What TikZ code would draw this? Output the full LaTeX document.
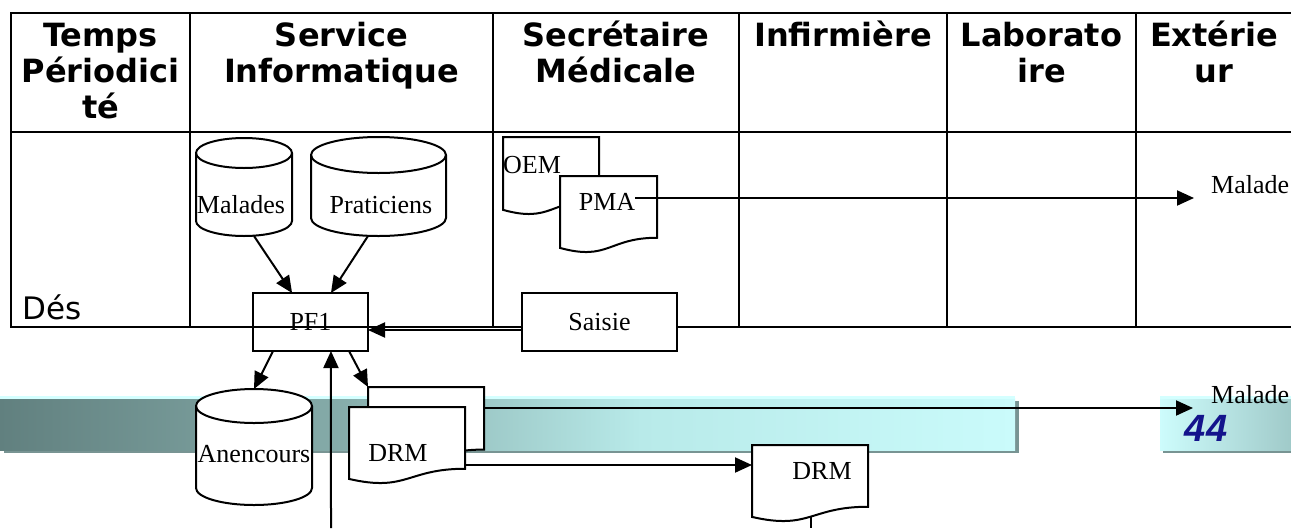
\documentclass[tikz,border=0pt]{standalone}
\usepackage{fontspec}
\setmainfont{Liberation Serif}
\newfontfamily\hdrfont{DejaVu Sans}
\newfontfamily\numfont{Liberation Sans}
\usetikzlibrary{arrows.meta,calc}
\definecolor{bzero}{RGB}{97,128,127}
\definecolor{bone}{RGB}{132,170,168}
\definecolor{btwo}{RGB}{184,234,233}
\definecolor{bthree}{RGB}{202,251,251}
\definecolor{bandshadow}{RGB}{120,148,147}
\definecolor{bandtop}{RGB}{212,255,255}
\definecolor{nzero}{RGB}{205,252,252}
\definecolor{none}{RGB}{160,202,201}
\definecolor{numblue}{RGB}{20,20,140}
\newcommand\cyldraw[5]{% cx, rx, yt, yb, ry
  \draw[ln, fill=white] ({#1-#2},#3) -- ({#1-#2},#4) arc[start angle=180, end angle=0, x radius=#2, y radius=#5] -- ({#1+#2},#3) arc[start angle=0, end angle=-180, x radius=#2, y radius=#5] -- cycle;
  \draw[ln] ({#1-#2},#3) arc[start angle=180, end angle=0, x radius=#2, y radius=#5];}
\newcommand\docdraw[4]{% L T w h
  \draw[ln, fill=white] (#1,#2) -- ({#1+#3},#2) -- ({#1+#3},{#2+0.802*#4}) .. controls ({#1+0.5*#3},{#2+0.802*#4}) and ({#1+0.5*#3},{#2+1.1075*#4}) .. (#1,{#2+0.934*#4}) -- cycle;}
\begin{document}
\begin{tikzpicture}[x=1pt,y=-1pt,
  tbl/.style={line width=2.8pt},
  ln/.style={line width=2pt},
  arr/.style={line width=2pt,-{Triangle[length=17pt,width=15pt]}},
  lbl/.style={font=\fontsize{26}{30}\selectfont, inner sep=0pt},
  hdr/.style={font=\hdrfont\bfseries\fontsize{32}{36}\selectfont, align=center, inner sep=0pt, anchor=north},
  box/.style n args={2}{minimum width=#1pt, minimum height=#2pt, inner sep=0pt, outer sep=0pt}]
\useasboundingbox[fill=white] (0,0) rectangle (1291,528);

% background band of the slide
\fill[bandshadow] (4,401) rectangle (1019,453);
\shade[left color=bzero,right color=bone] (0,398) rectangle (331,450);
\shade[left color=bone,right color=btwo] (330,398) rectangle (641,450);
\shade[left color=btwo,right color=bthree] (640,398) rectangle (1015,450);
\fill[bandtop] (0,396) rectangle (1015,399);
\fill[bandshadow] (1163,401) rectangle (1291,453);
\shade[left color=nzero,right color=none] (1160,398) rectangle (1291,450);
\fill[bandtop] (1160,396) rectangle (1291,399);
\node[font=\numfont\bfseries\itshape\fontsize{38}{40}\selectfont, text=numblue, inner sep=0pt] (pagenum) at (1206,428) {44};

% table
\draw[tbl] (1291,13) -- (11,13) -- (11,327) -- (1291,327);
\draw[tbl] (11,132) -- (1291,132);
\foreach \cx in {190,493,739,947,1136} \draw[tbl] (\cx,13) -- (\cx,327);
\node[hdr] (hT) at (100.5,16) {\rule{0pt}{30pt}Temps\\Périodici\\té};
\node[hdr] (hS) at (341.5,16) {\rule{0pt}{30pt}Service\\Informatique};
\node[hdr] (hM) at (616,16) {\rule{0pt}{30pt}Secrétaire\\Médicale};
\node[hdr] (hI) at (843,16) {\rule{0pt}{30pt}Infirmière};
\node[hdr] (hL) at (1041.5,16) {\rule{0pt}{30pt}Laborato\\ire};
\node[hdr] (hE) at (1214,16) {\rule{0pt}{30pt}Extérie\\ur};
\node[font=\hdrfont\fontsize{31}{36}\selectfont, anchor=base west, inner sep=0pt] (des) at (22,319) {Dés};

% data stores
\node[box={96}{98}] (malades) at (244,187) {};
\cyldraw{244}{48}{153}{221}{15}
\node[lbl, anchor=base] (maladesT) at (241,213) {Malades};
\node[box={135}{99}] (praticiens) at (378.5,186.5) {};
\cyldraw{378.5}{67.5}{155}{218}{18}
\node[lbl, anchor=base] (praticiensT) at (381,213) {Praticiens};
\node[box={116}{116}] (anencours) at (254,447) {};
\cyldraw{254}{58}{406}{488}{17}
\node[lbl, anchor=base] (anencoursT) at (254,462) {Anencours};

% documents
\node[box={96}{78}] (oem) at (551,176) {};
\docdraw{503}{137}{96}{78}
\node[lbl, anchor=base west] (oemT) at (503,173) {OEM};
\node[box={97}{77}] (pma) at (608.5,214.5) {};
\docdraw{560}{176}{97}{77}
\node[lbl, anchor=base] (pmaT) at (607,210) {PMA};
\node[box={116}{78}] (drmB) at (426,426) {};
\docdraw{368}{387}{116}{78}
\node[box={116}{77}] (drmF) at (407,445.5) {};
\docdraw{349}{407}{116}{77}
\node[lbl, anchor=base] (drmFT) at (398,461) {DRM};
\node[box={116}{77}] (drmR) at (810,483.5) {};
\docdraw{752}{445}{116}{77}
\node[lbl, anchor=base] (drmRT) at (822,479) {DRM};

% processes
\node[box={115}{58}, draw, ln, lbl] (pf1) at (310.5,322) {PF1};
\node[box={155}{58}, draw, ln, fill=white, lbl] (saisie) at (599.5,322) {Saisie};

% external
\node[lbl, anchor=base west] (malade1) at (1211,193) {Malade};
\node[lbl, anchor=base west] (malade2) at (1211,403) {Malade};
\coordinate (m1tip) at (1194,198);
\coordinate (m2tip) at (1193,408);
\coordinate (rtip) at ($(drmR.north west)+(0,20)$);
\coordinate (upsrc) at (331,528);
\coordinate (downend) at (811,528);

% connectors
\draw[arr] ($(malades.south)+(10,0)$) -- ($(pf1.north west)!0.34!(pf1.north east)$);
\draw[arr] ($(praticiens.south)+(-10.5,0)$) -- ($(pf1.north west)!0.678!(pf1.north east)$);
\draw[arr] ($(saisie.west)+(0,8)$) -- ($(pf1.east)+(0,8)$);
\draw[arr] ($(pf1.south west)!0.174!(pf1.south east)$) -- (anencours.north);
\draw[arr] ($(pf1.south west)!0.835!(pf1.south east)$) -- (drmB.north west);
\draw[arr] (upsrc) -- ($(pf1.south west)!0.678!(pf1.south east)$);
\draw[arr] (pmaT.east |- m1tip) -- (m1tip);
\draw[arr] (drmB.east |- m2tip) -- (m2tip);
\draw[arr] (drmF.east |- rtip) -- (rtip);
\draw[ln] ($(drmR.north)+(1,72)$) -- (downend);
\end{tikzpicture}
\end{document}
